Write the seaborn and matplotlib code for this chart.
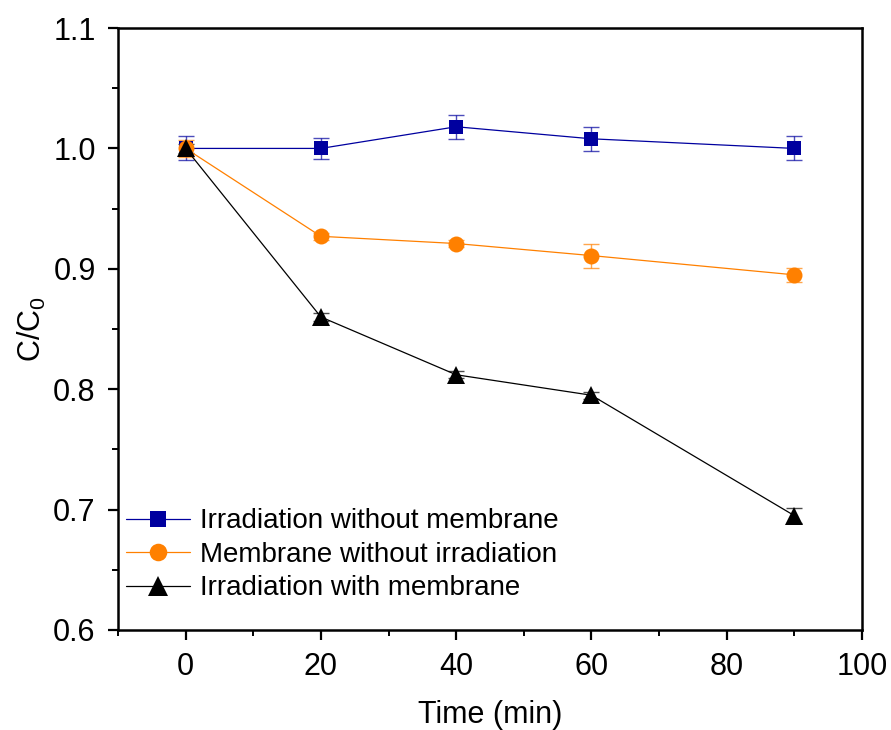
import matplotlib
matplotlib.use("Agg")
import matplotlib.pyplot as plt
import numpy as np
import pandas as pd
import seaborn as sns
from matplotlib.ticker import MultipleLocator

time_min = [0, 20, 40, 60, 90]
series_names = ["Irradiation without membrane",
                "Membrane without irradiation",
                "Irradiation with membrane"]
irr_no_mem = [1.000, 1.000, 1.018, 1.008, 1.000]
irr_no_mem_err = [0.010, 0.009, 0.010, 0.010, 0.010]
mem_no_irr = [1.000, 0.927, 0.921, 0.911, 0.895]
mem_no_irr_err = [0.007, 0.003, 0.003, 0.010, 0.006]
irr_with_mem = [1.000, 0.860, 0.812, 0.795, 0.695]
irr_with_mem_err = [0.004, 0.003, 0.003, 0.003, 0.006]

colors = ["#00009F", "#FF8000", "#000000"]
markers = ["s", "o", "^"]
msizes = [10.5, 11.5, 12.5]

values = [irr_no_mem, mem_no_irr, irr_with_mem]
errors = [irr_no_mem_err, mem_no_irr_err, irr_with_mem_err]

df = pd.DataFrame({
    "Time": np.tile(time_min, 3),
    "C": np.concatenate(values),
    "err": np.concatenate(errors),
    "Series": np.repeat(series_names, len(time_min)),
})

sns.set_theme(style="ticks")
plt.rcParams["font.family"] = ["Liberation Sans", "DejaVu Sans"]
plt.rcParams["mathtext.fontset"] = "custom"
plt.rcParams["mathtext.rm"] = "Liberation Sans"
plt.rcParams["mathtext.it"] = "Liberation Sans"
plt.rcParams["text.color"] = "black"
plt.rcParams["axes.labelcolor"] = "black"
plt.rcParams["xtick.color"] = "black"
plt.rcParams["ytick.color"] = "black"

fig = plt.figure(figsize=(8.91, 7.30), dpi=100)
ax = fig.add_axes([0.1324, 0.137, 0.835, 0.8246])

for name, col, mk, ms in zip(series_names, colors, markers, msizes):
    sub = df[df["Series"] == name]
    ax.errorbar(sub["Time"], sub["C"], yerr=sub["err"], fmt="none",
                ecolor=col, elinewidth=1.0, capsize=6, capthick=1.0,
                alpha=0.7, zorder=2)
    sns.lineplot(data=sub, x="Time", y="C", ax=ax, color=col, marker=mk,
                 markersize=ms, markeredgewidth=0, linewidth=0.9,
                 label=name, zorder=3)

ax.set_xlim(-10, 100)
ax.set_ylim(0.6, 1.1)
ax.xaxis.set_major_locator(MultipleLocator(20))
ax.xaxis.set_minor_locator(MultipleLocator(10))
ax.yaxis.set_major_locator(MultipleLocator(0.1))
ax.yaxis.set_minor_locator(MultipleLocator(0.05))
ax.tick_params(which="major", direction="out", length=7, width=1.6,
               labelsize=22, labelcolor="black", color="black", pad=9)
ax.tick_params(which="minor", direction="out", length=4, width=1.4,
               color="black")
ax.tick_params(top=False, right=False, which="both")
for sp in ax.spines.values():
    sp.set_visible(True)
    sp.set_linewidth(1.8)
    sp.set_color("black")

ax.set_xlabel("Time (min)", fontsize=22, labelpad=13, color="black")
ax.set_ylabel(r"C/C$_\mathregular{0}$", fontsize=22, labelpad=4,
              color="black")

leg = ax.legend(loc="lower left", bbox_to_anchor=(-0.011, 0.02), frameon=False,
                fontsize=20, handlelength=2.3, handletextpad=0.35,
                labelspacing=0.27, borderaxespad=0.2, markerscale=1.1)
for t in leg.get_texts():
    t.set_color("black")

fig.savefig("out.png", dpi=100)
